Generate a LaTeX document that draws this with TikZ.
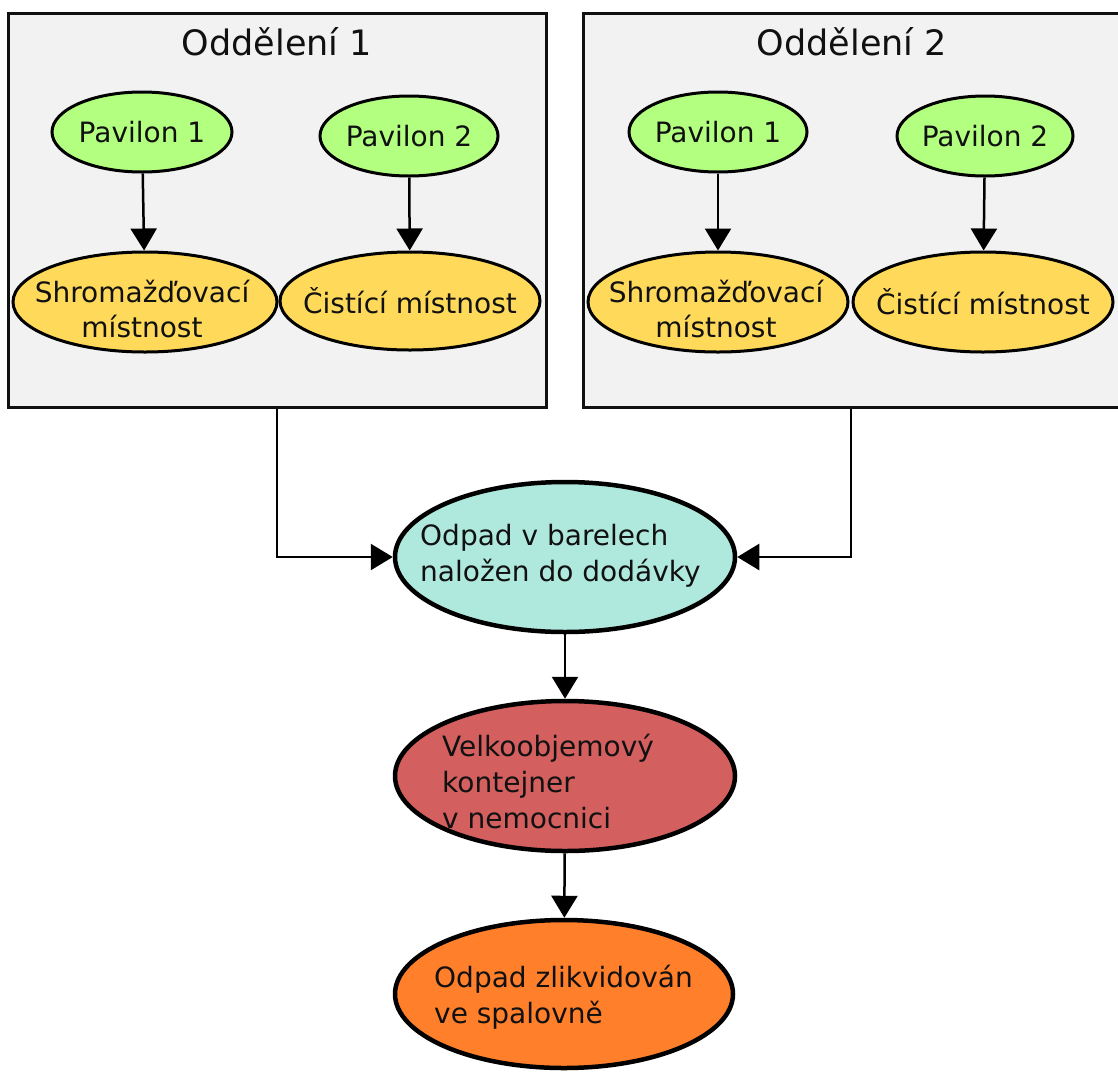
\documentclass[tikz,border=0pt]{standalone}
\usepackage{fontspec}
\setmainfont{DejaVu Sans}
\usetikzlibrary{arrows.meta,shapes.geometric}
\definecolor{boxfill}{HTML}{F2F2F2}
\definecolor{pgreen}{HTML}{B3FF80}
\definecolor{pyellow}{HTML}{FFD95A}
\definecolor{pteal}{HTML}{AFE9DD}
\definecolor{pred}{HTML}{D35F5F}
\definecolor{porange}{HTML}{FF7F2A}
\definecolor{ink}{HTML}{111111}
\tikzset{
  dept/.style={draw=ink, line width=3pt, fill=boxfill, rectangle, inner sep=0pt},
  ell/.style={draw=black, ellipse, inner sep=0pt},
  small/.style={ell, line width=3pt},
  big/.style={ell, line width=4.5pt},
  txt/.style={font=\fontsize{28}{35}\selectfont, align=center, inner sep=0pt, text=ink},
  ltxt/.style={font=\fontsize{28}{36}\selectfont, align=left, inner sep=0pt, anchor=west, text=ink},
  ttl/.style={font=\fontsize{35}{40}\selectfont, inner sep=0pt, text=ink},
  arr/.style={line width=2.5pt, -{Triangle[width=26pt,length=22pt]}},
}
\begin{document}
\begin{tikzpicture}[x=1pt,y=-1pt]
\useasboundingbox (0,0) rectangle (1118,1071);
% department boxes
\node[dept, minimum width=538pt, minimum height=394pt] (d1) at (277,210) {};
\node[dept, minimum width=536pt, minimum height=394pt] (d2) at (851,210) {};
\node[ttl] (t1) at (277,42) {Oddělení 1};
\node[ttl] (t2) at (852,42) {Oddělení 2};
% department 1
\node[small, fill=pgreen, minimum width=180pt, minimum height=80pt] (p11) at (142,132) {};
\node[txt] (p11t) at (p11) {Pavilon 1};
\node[small, fill=pgreen, minimum width=178pt, minimum height=80pt] (p12) at (409,136) {};
\node[txt] (p12t) at (p12) {Pavilon 2};
\node[small, fill=pyellow, minimum width=264pt, minimum height=100pt] (s1) at (145,302) {};
\node[txt] (s1t) at (142,309) {Shromažďovací\\místnost};
\node[small, fill=pyellow, minimum width=260pt, minimum height=98pt] (c1) at (410,301) {};
\node[txt] (c1t) at (c1) {Čistící místnost};
% department 2
\node[small, fill=pgreen, minimum width=178pt, minimum height=80pt] (p21) at (718,132) {};
\node[txt] (p21t) at (p21) {Pavilon 1};
\node[small, fill=pgreen, minimum width=176pt, minimum height=80pt] (p22) at (985,136) {};
\node[txt] (p22t) at (p22) {Pavilon 2};
\node[small, fill=pyellow, minimum width=260pt, minimum height=100pt] (s2) at (718,302) {};
\node[txt] (s2t) at (716,309) {Shromažďovací\\místnost};
\node[small, fill=pyellow, minimum width=260pt, minimum height=100pt] (c2) at (983,302) {};
\node[txt] (c2t) at (c2) {Čistící místnost};
% bottom chain
\node[big, fill=pteal, minimum width=340pt, minimum height=150pt] (b1) at (565,557) {};
\node[ltxt] (b1t) at (420,556) {Odpad v barelech\\naložen do dodávky};
\node[big, fill=pred, minimum width=340pt, minimum height=150pt] (b2) at (565,776) {};
\node[ltxt] (b2t) at (442,781) {Velkoobjemový\\kontejner\\v nemocnici};
\node[big, fill=porange, minimum width=338pt, minimum height=148pt] (b3) at (564,994) {};
\node[ltxt] (b3t) at (434,997) {Odpad zlikvidován\\ve spalovně};
% connectors
\draw[arr] (p11) -- (s1);
\draw[arr] (p12) -- (c1);
\draw[arr] (p21) -- (s2);
\draw[arr] (p22) -- (c2);
\draw[arr] (d1.south) |- (b1.west);
\draw[arr] (d2.south) |- (b1.east);
\draw[arr] (b1) -- (b2);
\draw[arr] (b2) -- (b3);
\end{tikzpicture}
\end{document}
